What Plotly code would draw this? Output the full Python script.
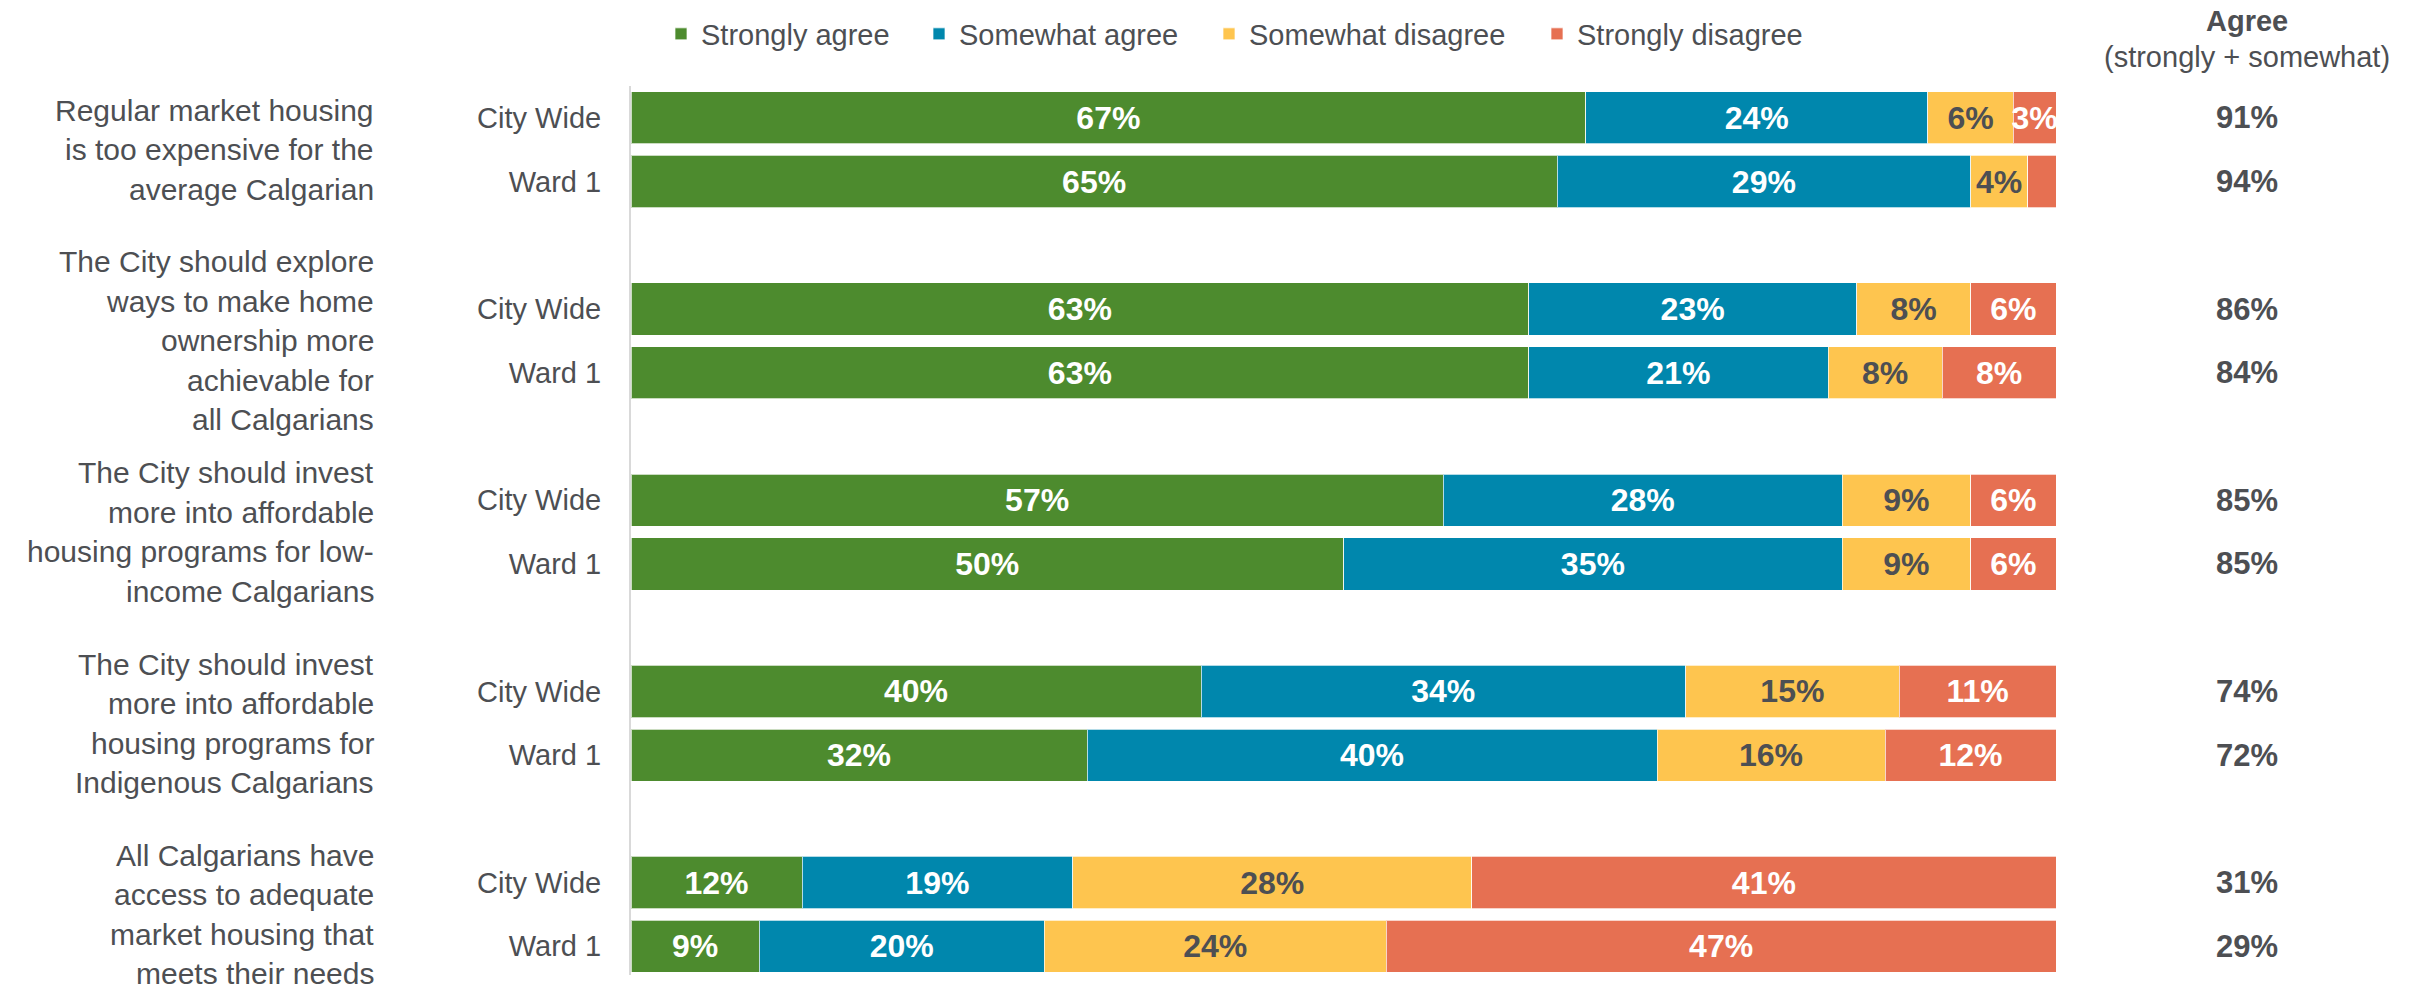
import plotly.graph_objects as go

# ---------------- data ----------------
statements = [
    ["Regular market housing", "is too expensive for the", "average Calgarian"],
    ["The City should explore", "ways to make home", "ownership more", "achievable for", "all Calgarians"],
    ["The City should invest", "more into affordable", "housing programs for low-", "income Calgarians"],
    ["The City should invest", "more into affordable", "housing programs for", "Indigenous Calgarians"],
    ["All Calgarians have", "access to adequate", "market housing that", "meets their needs"],
]
groups = ["City Wide", "Ward 1"]
series_names = ["Strongly agree", "Somewhat agree", "Somewhat disagree", "Strongly disagree"]

strongly_agree = [67, 65, 63, 63, 57, 50, 40, 32, 12, 9]
somewhat_agree = [24, 29, 23, 21, 28, 35, 34, 40, 19, 20]
somewhat_disagree = [6, 4, 8, 8, 9, 9, 15, 16, 28, 24]
strongly_disagree = [3, 2, 6, 8, 6, 6, 11, 12, 41, 47]
agree_total = [91, 94, 86, 84, 85, 85, 74, 72, 31, 29]

# ---------------- style ----------------
colors = ["#4D8B2E", "#0087AD", "#FEC54F", "#E67052"]
text_colors = ["white", "white", "#4D4F53", "white"]
FONT = "Liberation Sans, Arial, sans-serif"
GREY = "#4D4F53"

# body margin is removed by a post script, so the figure fills the window
W, H = 2420, 987
PLOT_L, PLOT_R, PLOT_T, PLOT_B = 631, 2056, 86, 975   # target page pixels
ML = PLOT_L
MR = W - PLOT_R
MT = PLOT_T
MB = H - PLOT_B
PW = PLOT_R - PLOT_L
PH = PLOT_B - PLOT_T
LINE_GAP = 39.5  # px between statement text lines

# row positions: each statement uses 3 slots (City Wide, Ward 1, gap)
ypos = []
for g in range(len(statements)):
    ypos += [3 * g, 3 * g + 1]
row_labels = groups * len(statements)

def px_to_paper_x(px):
    return (px - PLOT_L) / PW

def px_to_paper_y(py):
    return 1 + (PLOT_T - py) / PH

fig = go.Figure()
all_series = [strongly_agree, somewhat_agree, somewhat_disagree, strongly_disagree]
legend_ids = ["legend", "legend2", "legend3", "legend4"]
for i, (name, vals) in enumerate(zip(series_names, all_series)):
    fig.add_trace(go.Bar(
        y=ypos, x=vals, orientation="h", name=name,
        marker=dict(color=colors[i], line=dict(color="rgba(255,255,255,0.7)", width=1)),
        width=0.82,
        text=[f"{v}%" if v >= 3 else "" for v in vals],
        textposition="inside", insidetextanchor="middle",
        textangle=0, constraintext="none",
        textfont=dict(family=FONT, size=32, color=text_colors[i], weight="bold"),
        hoverinfo="skip",
        legend=legend_ids[i],
    ))

# legends positioned individually
legend_x_px = [661, 919, 1209, 1537]
legend_layout = {}
for i, lid in enumerate(legend_ids):
    legend_layout[lid] = dict(
        orientation="h", x=px_to_paper_x(legend_x_px[i]), xanchor="left",
        y=px_to_paper_y(34), yanchor="middle",
        font=dict(family=FONT, size=29, color=GREY),
        bgcolor="rgba(0,0,0,0)", itemclick=False, itemdoubleclick=False,
    )

annotations = []
# statement labels, one annotation per line for the reference line spacing
for g, lines in enumerate(statements):
    n = len(lines)
    for k, line in enumerate(lines):
        annotations.append(dict(
            text=line, xref="paper", yref="y", x=px_to_paper_x(376), y=3 * g + 0.5,
            yshift=-(k - (n - 1) / 2) * LINE_GAP,
            xanchor="right", yanchor="middle", align="right", showarrow=False,
            font=dict(family=FONT, size=30, color=GREY),
        ))
# right column
annotations.append(dict(
    text="Agree", xref="paper", yref="paper", x=px_to_paper_x(2247), y=px_to_paper_y(21),
    xanchor="center", yanchor="middle", showarrow=False,
    font=dict(family=FONT, size=29, color=GREY, weight="bold"),
))
annotations.append(dict(
    text="(strongly + somewhat)", xref="paper", yref="paper", x=px_to_paper_x(2247), y=px_to_paper_y(57),
    xanchor="center", yanchor="middle", showarrow=False,
    font=dict(family=FONT, size=29, color=GREY),
))
for yv, v in zip(ypos, agree_total):
    annotations.append(dict(
        text=f"{v}%", xref="paper", yref="y", x=px_to_paper_x(2247), y=yv,
        xanchor="center", yanchor="middle", showarrow=False,
        font=dict(family=FONT, size=31, color=GREY, weight="bold"),
    ))

fig.update_layout(
    width=W, height=H,
    margin=dict(l=ML, r=MR, t=MT, b=MB, pad=0, autoexpand=False),
    barmode="stack",
    plot_bgcolor="white", paper_bgcolor="white",
    font=dict(family=FONT, color=GREY),
    showlegend=True,
    annotations=annotations,
    xaxis=dict(range=[0, 100], showgrid=False, zeroline=False, showticklabels=False,
               showline=False, fixedrange=True, automargin=False),
    yaxis=dict(range=[13.45, -0.5], tickvals=ypos, ticktext=row_labels,
               tickfont=dict(family=FONT, size=29, color=GREY),
               showgrid=False, zeroline=False, showline=True, linecolor="#D9D9D9",
               linewidth=2, ticks="", ticklabelstandoff=22, fixedrange=True,
               automargin=False),
    **legend_layout,
)

fig.write_html(
    "out.html",
    config={"displayModeBar": False},
    post_script="document.body.style.margin='0';document.body.style.overflow='hidden';",
)
